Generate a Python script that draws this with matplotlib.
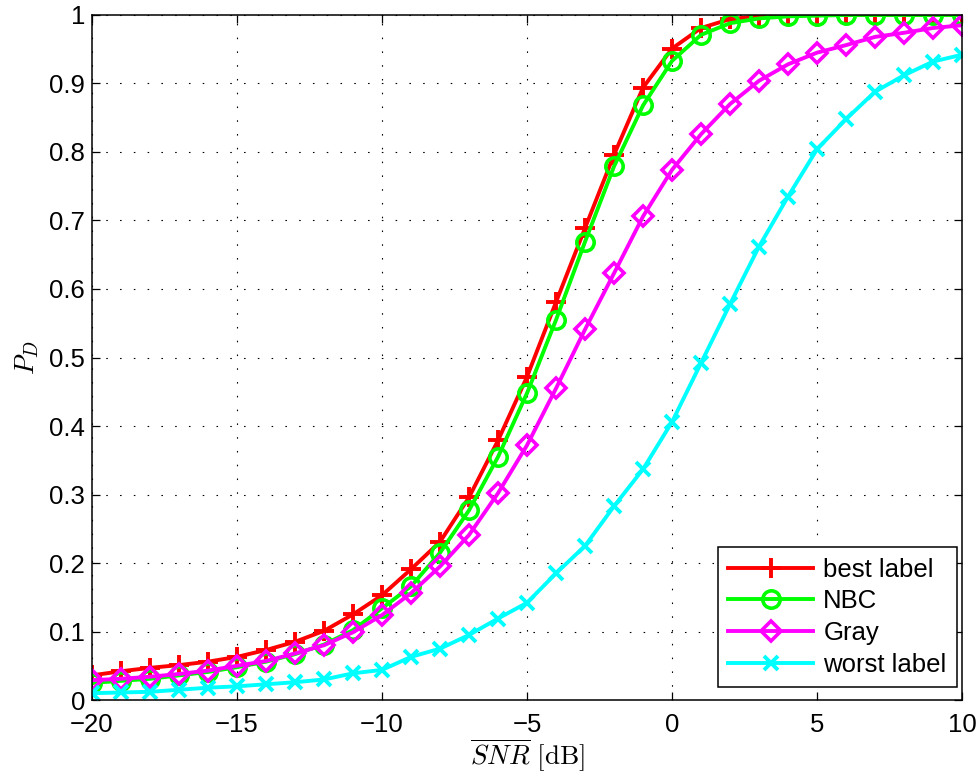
import matplotlib
matplotlib.use('Agg')
import matplotlib.pyplot as plt
import numpy as np

plt.rcParams['font.family'] = ['Liberation Sans', 'DejaVu Sans']
plt.rcParams['mathtext.fontset'] = 'cm'
plt.rcParams['axes.unicode_minus'] = True

snr = np.arange(-20, 11, 1)  # dB

best_label = [0.036, 0.042, 0.047, 0.051, 0.056, 0.063, 0.073, 0.085, 0.101, 0.125,
              0.153, 0.191, 0.231, 0.296, 0.379, 0.472, 0.581, 0.689, 0.796, 0.894,
              0.951, 0.981, 0.994, 0.998, 0.999, 1.0, 1.0, 1.0, 1.0, 1.0, 1.0]
nbc = [0.025, 0.028, 0.031, 0.036, 0.041, 0.048, 0.056, 0.067, 0.081, 0.102,
       0.134, 0.166, 0.215, 0.277, 0.355, 0.448, 0.555, 0.669, 0.779, 0.868,
       0.933, 0.971, 0.988, 0.995, 0.998, 0.999, 1.0, 1.0, 1.0, 1.0, 1.0]
gray = [0.029, 0.031, 0.034, 0.038, 0.043, 0.050, 0.057, 0.068, 0.080, 0.099,
        0.124, 0.156, 0.195, 0.241, 0.302, 0.372, 0.455, 0.541, 0.623, 0.706,
        0.774, 0.826, 0.870, 0.904, 0.928, 0.945, 0.956, 0.968, 0.974, 0.981, 0.985]
worst_label = [0.010, 0.011, 0.012, 0.015, 0.018, 0.020, 0.023, 0.026, 0.030, 0.039,
               0.044, 0.063, 0.075, 0.095, 0.119, 0.142, 0.185, 0.225, 0.283, 0.337,
               0.406, 0.492, 0.578, 0.662, 0.735, 0.804, 0.848, 0.888, 0.912, 0.932, 0.942]

xticks = [-20, -15, -10, -5, 0, 5, 10]
yticks = [0, 0.1, 0.2, 0.3, 0.4, 0.5, 0.6, 0.7, 0.8, 0.9, 1.0]
ytick_labels = ['0', '0.1', '0.2', '0.3', '0.4', '0.5', '0.6', '0.7', '0.8', '0.9', '1']

fig = plt.figure(figsize=(9.78, 7.76), dpi=100)
ax = fig.add_axes([0.0941, 0.0979, 0.8896, 0.8828])

lw = 2.8
ax.plot(snr, best_label, color='#ff0000', lw=lw, marker='+', ms=14, mew=2.8,
        label='best label')
ax.plot(snr, nbc, color='#00ff00', lw=lw, marker='o', ms=12.5, mew=2.6,
        mfc='none', label='NBC')
ax.plot(snr, gray, color='#ff00ff', lw=lw, marker='D', ms=10.5, mew=2.6,
        mfc='none', label='Gray')
ax.plot(snr, worst_label, color='#00ffff', lw=lw, marker='x', ms=9.5, mew=2.8,
        label='worst label')

ax.set_xlim(-20, 10)
ax.set_ylim(0, 1)
ax.set_xticks(xticks)
ax.set_yticks(yticks)
ax.set_yticklabels(ytick_labels)

ax.grid(True, color='black', linestyle=(0, (1.4, 11)), linewidth=0.8)
ax.tick_params(direction='in', top=True, right=True, length=6, width=0.9,
               labelsize=18.5)
ax.tick_params(axis='x', pad=9)
ax.tick_params(axis='y', pad=5)
for s in ax.spines.values():
    s.set_linewidth(1.1)

ax.set_xlabel(r'$\overline{SNR}\ [\mathrm{dB}]$', fontsize=19.5, labelpad=0)
ax.set_ylabel(r'$P_D$', fontsize=19.5, labelpad=6)

leg = ax.legend(loc='lower right', bbox_to_anchor=(0.994, 0.019), borderaxespad=0,
                fontsize=18.5, numpoints=1, handlelength=3.3, handletextpad=0.4,
                labelspacing=0.3, borderpad=0.4, fancybox=False, framealpha=1,
                edgecolor='black')
leg.get_frame().set_linewidth(1.1)

fig.savefig('out.png', dpi=100)
